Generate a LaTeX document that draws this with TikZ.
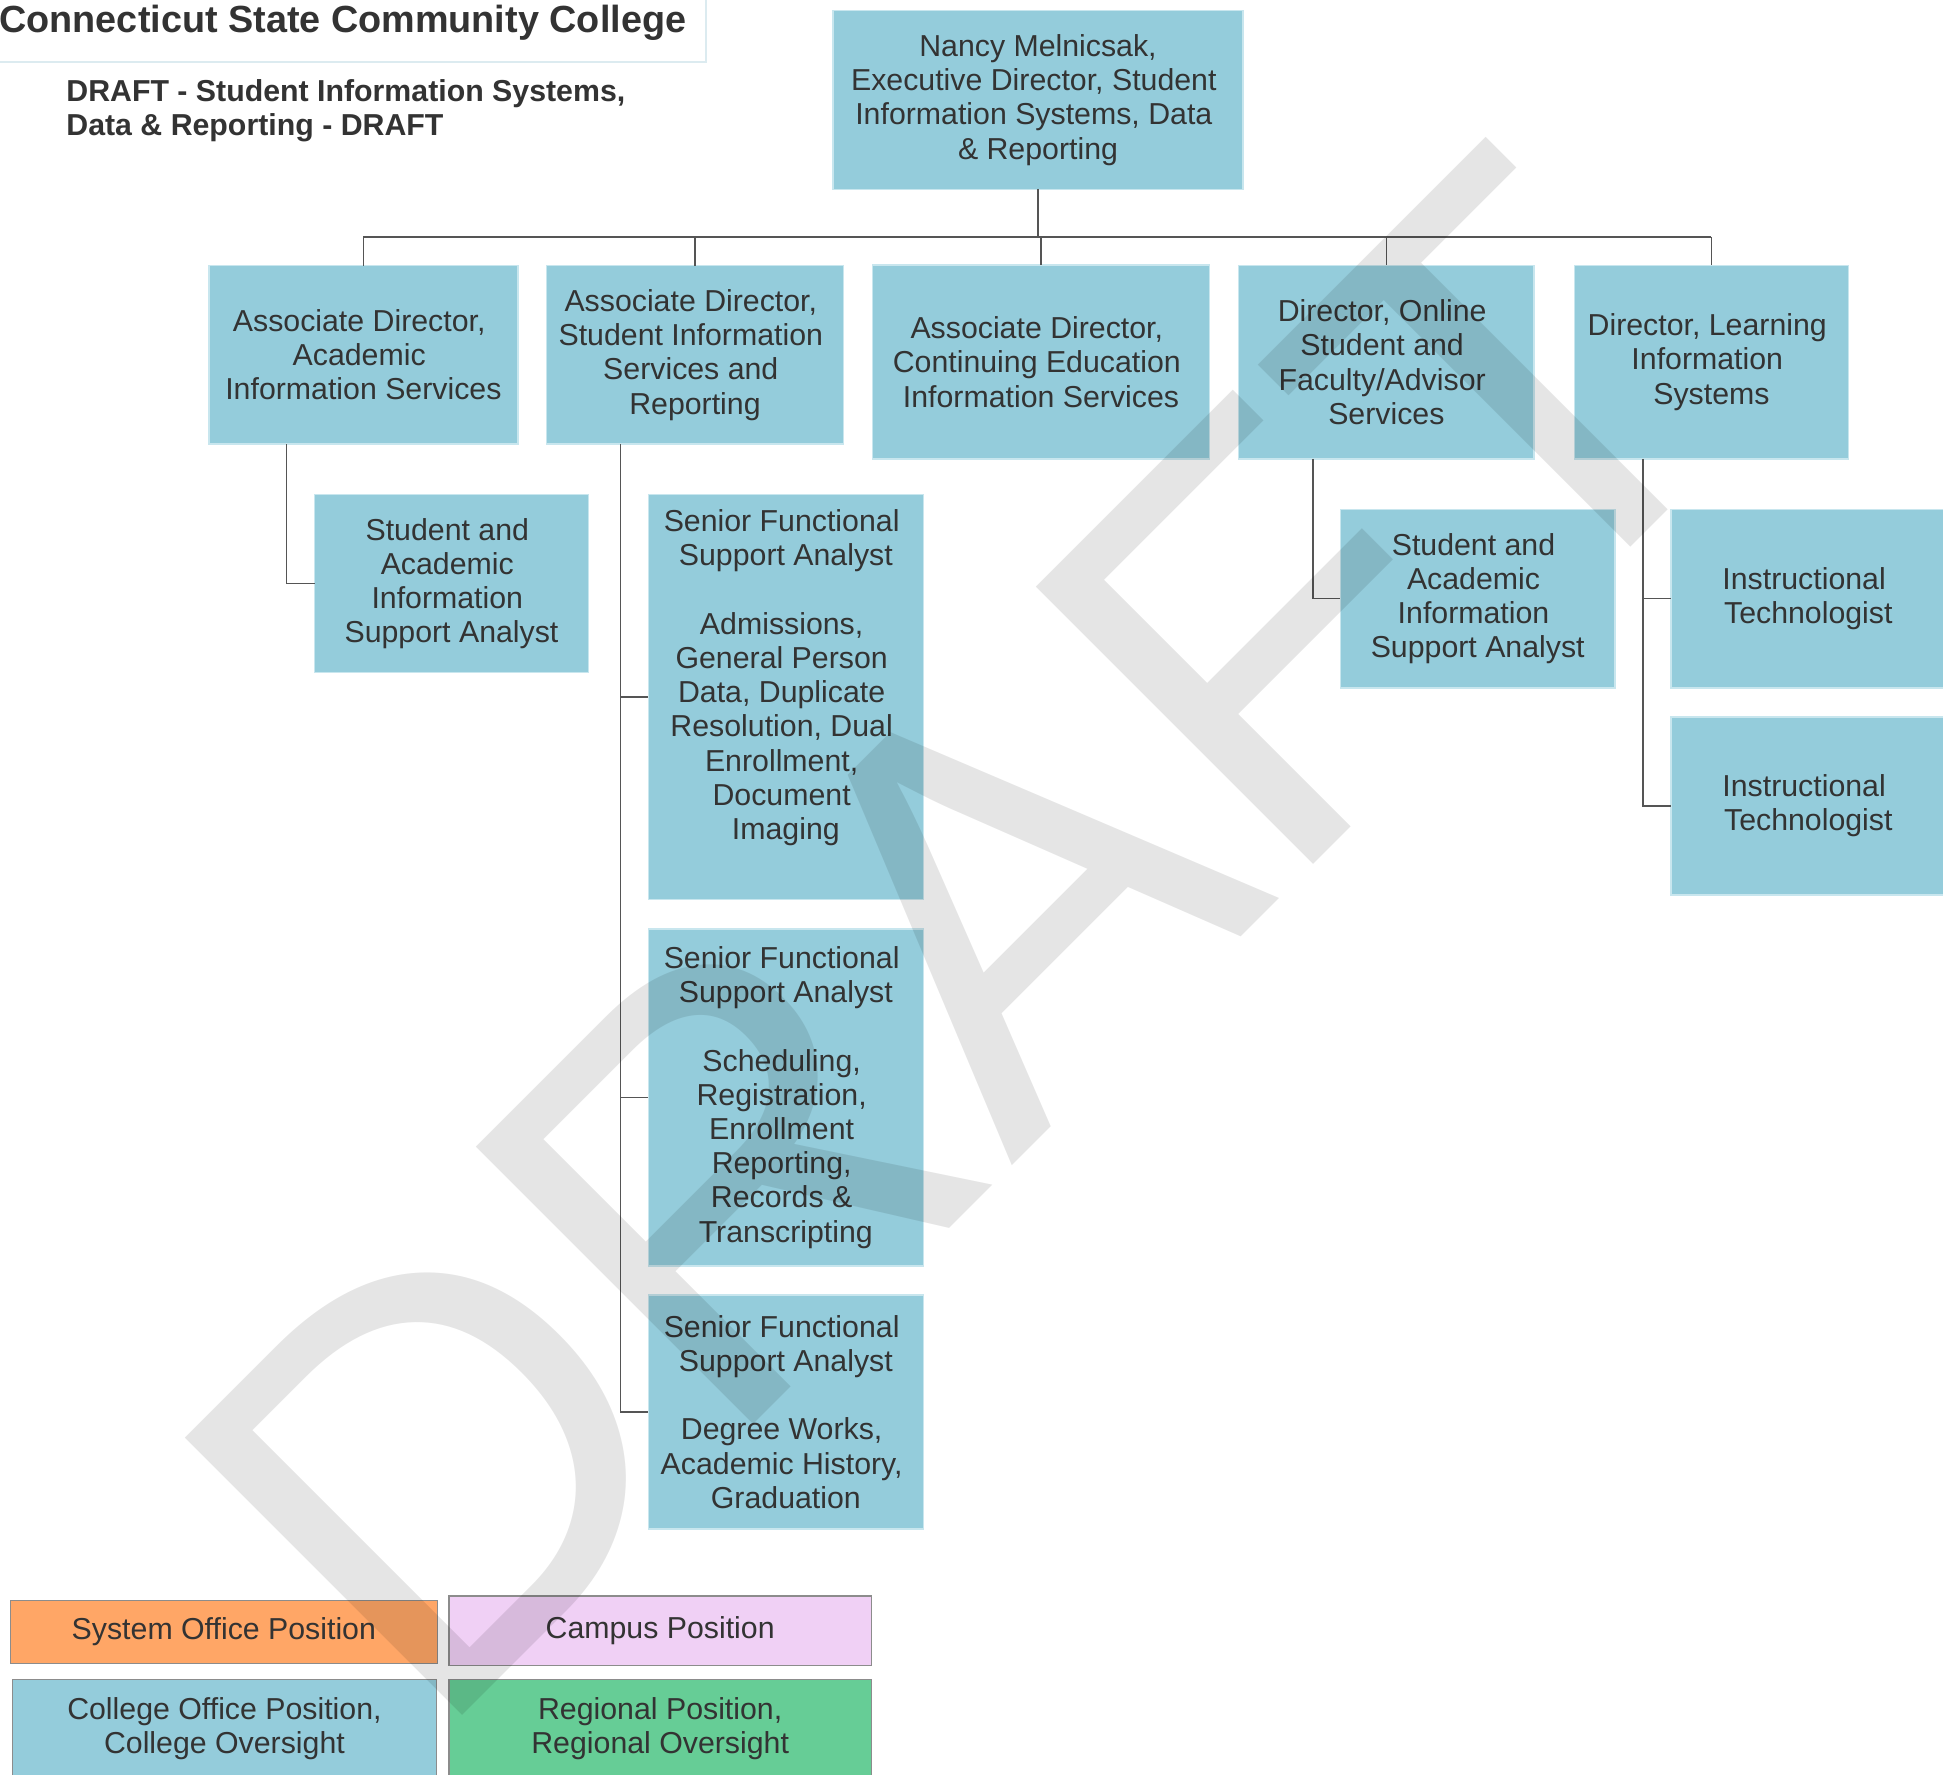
\documentclass[tikz,border=0pt]{standalone}
\usepackage{fontspec}
\setmainfont{Liberation Sans}
\definecolor{boxfill}{HTML}{94CCDB}
\definecolor{boxline}{HTML}{C8E6EE}
\definecolor{txt}{HTML}{333333}
\definecolor{connclr}{HTML}{555555}
\definecolor{legline}{HTML}{8C8C8C}
\definecolor{sysorange}{HTML}{FFA666}
\definecolor{campus}{HTML}{F0D0F5}
\definecolor{regional}{HTML}{66CD96}
\definecolor{titleline}{HTML}{DCEBF0}
\newcommand{\bodyfont}{\fontsize{15.15}{17.1}\selectfont}
\newcommand{\ts}{\kern4.2pt}
\begin{document}
\begin{tikzpicture}[x=0.5pt,y=-0.5pt,
  orgbox/.style={draw=boxline, fill=boxfill, line width=0.75pt, text=txt, font=\bodyfont, align=center, inner sep=0pt, outer sep=0pt},
  legbox/.style={draw=legline, line width=0.6pt, text=txt, font=\bodyfont, align=center, inner sep=0pt, outer sep=0pt},
  conn/.style={draw=connclr, line width=0.7pt}
]
\useasboundingbox (0,0) rectangle (1943,1775);

% title
\draw[draw=titleline, line width=0.75pt] (-5,-5) rectangle (706,62);
\node[anchor=base west, inner sep=0pt, text=txt, font=\fontsize{18.9}{20}\selectfont\bfseries] (title) at (-1,33) {Connecticut State Community College};
\node[anchor=base west, inner sep=0pt, text=txt, font=\fontsize{15.15}{17}\selectfont\bfseries] (sub1) at (66,102) {DRAFT - Student Information Systems,};
\node[anchor=base west, inner sep=0pt, text=txt, font=\fontsize{15.15}{17}\selectfont\bfseries] (sub2) at (66,136) {Data \& Reporting - DRAFT};

% boxes
\node[orgbox, minimum width=205pt, minimum height=89.5pt] (top) at (1038,100) {Nancy Melnicsak,\\Executive Director, Student\ts\\Information Systems, Data\ts\\\& Reporting};
\node[orgbox, minimum width=154.4pt, minimum height=89.15pt] (b1) at (363.4,354.9) {Associate Director,\ts\\Academic\ts\\Information Services};
\node[orgbox, minimum width=148.5pt, minimum height=89.15pt] (b2) at (695,354.9) {Associate Director,\ts\\Student Information\ts\\Services and\ts\\Reporting};
\node[orgbox, minimum width=168.5pt, minimum height=97pt] (b3) at (1041,362) {Associate Director,\ts\\Continuing Education\ts\\Information Services};
\node[orgbox, minimum width=147.85pt, minimum height=96.85pt] (b4) at (1386.35,362.15) {Director, Online\ts\\Student and\ts\\Faculty/Advisor\ts\\Services};
\node[orgbox, minimum width=136.95pt, minimum height=96.85pt] (b5) at (1711.45,362.15) {Director, Learning\ts\\Information\ts\\Systems};

\node[orgbox, minimum width=137pt, minimum height=89.2pt] (c1) at (451.5,583.5) {Student and\ts\\Academic\ts\\Information\ts\\Support Analyst};
\node[orgbox, minimum width=137.45pt, minimum height=202.5pt] (sA) at (785.85,696.8) {Senior Functional\ts\\Support Analyst\\\strut\\Admissions,\ts\\General Person\ts\\Data, Duplicate\ts\\Resolution, Dual\ts\\Enrollment,\ts\\Document\ts\\Imaging\\\strut};
\node[orgbox, minimum width=137.45pt, minimum height=168.5pt] (sB) at (785.85,1097.5) {Senior Functional\ts\\Support Analyst\\\strut\\Scheduling,\ts\\Registration,\ts\\Enrollment\ts\\Reporting,\ts\\Records \&\ts\\Transcripting};
\node[orgbox, minimum width=137.45pt, minimum height=117pt] (sC) at (785.85,1412) {Senior Functional\ts\\Support Analyst\\\strut\\Degree Works,\ts\\Academic History,\ts\\Graduation};
\node[orgbox, minimum width=137.4pt, minimum height=89.3pt] (c4) at (1477.7,598.6) {Student and\ts\\Academic\ts\\Information\ts\\Support Analyst};
\node[orgbox, minimum width=137.4pt, minimum height=89.3pt] (i1) at (1808.3,598.6) {Instructional\ts\\Technologist};
\node[orgbox, minimum width=137.4pt, minimum height=89.05pt] (i2) at (1808.3,806) {Instructional\ts\\Technologist};

% connectors
\coordinate (bus) at (0,237);
\draw[conn] (top.south) -- (top.south |- bus);
\draw[conn] (b1.north |- bus) -- (b5.north |- bus);
\foreach \b in {b1,b2,b3,b4,b5} \draw[conn] (\b.north |- bus) -- (\b.north);
\draw[conn] ([xshift=38.65pt]b1.south west) |- (c1.west);
\draw[conn] ([xshift=37pt]b2.south west) coordinate (v2) |- (sC.west);
\draw[conn] (v2 |- sA.west) -- (sA.west);
\draw[conn] (v2 |- sB.west) -- (sB.west);
\draw[conn] ([xshift=37.15pt]b4.south west) |- (c4.west);
\draw[conn] ([xshift=34.15pt]b5.south west) coordinate (v5) |- (i2.west);
\draw[conn] (v5 |- i1.west) -- (i1.west);

% legend
\node[legbox, fill=sysorange, minimum width=213.55pt, minimum height=31.3pt] (L1) at (223.85,1632) {System Office Position};
\node[legbox, fill=campus, minimum width=211.2pt, minimum height=34.65pt] (L2) at (660.2,1630.65) {Campus Position};
\node[legbox, fill=boxfill, minimum width=211.85pt, minimum height=49.1pt] (L3) at (224.45,1728.4) {College Office Position,\\College Oversight};
\node[legbox, fill=regional, minimum width=211.2pt, minimum height=49.1pt] (L4) at (660.2,1728.4) {Regional Position,\\Regional Oversight};

% watermark
\node[anchor=base west, inner sep=0pt, rotate=45, text=black, text opacity=0.1, font=\fontsize{285}{300}\selectfont] (wm) at (429,1749) {DRAFT};
\end{tikzpicture}
\end{document}
